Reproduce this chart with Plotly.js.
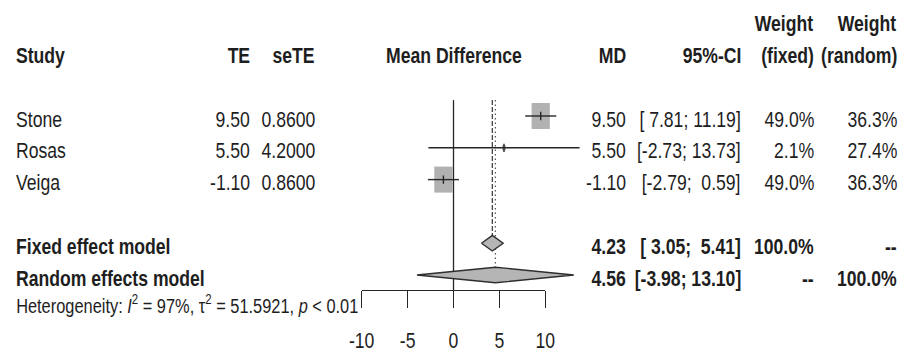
<!DOCTYPE html>
<html><head><meta charset="utf-8">
<script src="https://cdn.plot.ly/plotly-3.0.1.min.js"></script>
<style>html,body{margin:0;padding:0;background:#fff}</style>
</head><body><div id="chart" style="width:904px;height:353px"></div>
<script>
// ---------- data ----------
const studies = ['Stone', 'Rosas', 'Veiga'];
const te = [9.50, 5.50, -1.10];
const seTE = [0.8600, 4.2000, 0.8600];
const ciLow = [7.81, -2.73, -2.79];
const ciHigh = [11.19, 13.73, 0.59];
const weightFixed = [49.0, 2.1, 49.0];
const weightRandom = [36.3, 27.4, 36.3];
const modelNames = ['Fixed effect model', 'Random effects model'];
const modelMD = [4.23, 4.56];
const modelLow = [3.05, -3.98];
const modelHigh = [5.41, 13.10];
const modelWFixed = ['100.0%', '--'];
const modelWRandom = ['--', '100.0%'];
const hetI2 = '97%';
const hetTau2 = '51.5921';
const hetP = '&lt; 0.01';
const xTicks = [-10, -5, 0, 5, 10];

// ---------- layout geometry ----------
const W = 904, H = 353;
const X0 = 453.5, XS = 9.18;      // px of value 0, px per unit
const Y0 = 116, YS = 31.8;        // px of row 0, px per row
const AXIS_PX = 290;
const axisRow = (AXIS_PX - Y0) / YS;
const FONT = "'Liberation Sans', Arial, sans-serif";
const NARROW = 0.80;              // horizontal condensing of all text
const TXT = '#1e1e1e';
const FS = 22, FS_HET = 20.5;
const col = {study: 14, te: 252, se: 316.5, md: 628, ci: 743, wf: 816, wr: 899, mid: X0};
const TSHIFT = -3;

const px = v => v / W;
const f2 = v => v.toFixed(2);
const pad = (s, n) => ('\u00A0'.repeat(Math.max(0, n - s.length))) + s;
const ciTxt = (lo, hi) => '[' + pad(f2(lo), 5) + ';\u00A0' + pad(f2(hi), 5) + ']';

const ann = [];
function txt(xpx, row, text, anchor, opts = {}) {
  ann.push(Object.assign({
    xref: 'paper', yref: 'y', x: px(xpx), y: row, text: text,
    xanchor: anchor, yanchor: 'middle', showarrow: false, yshift: TSHIFT,
    font: {family: FONT, size: FS, color: TXT}
  }, opts));
}

// header
txt(col.wf, -3, '<b>Weight</b>', 'right');
txt(col.wr, -3, '<b>Weight</b>', 'right');
txt(col.study, -2, '<b>Study</b>', 'left');
txt(col.te, -2, '<b>TE</b>', 'right');
txt(col.se, -2, '<b>seTE</b>', 'right');
txt(col.mid, -2, '<b>Mean Difference</b>', 'center');
txt(col.md, -2, '<b>MD</b>', 'right');
txt(col.ci, -2, '<b>95%-CI</b>', 'right');
txt(col.wf, -2, '<b>(fixed)</b>', 'right');
txt(col.wr, -2, '<b>(random)</b>', 'right');

// studies
studies.forEach((s, i) => {
  txt(col.study, i, s, 'left');
  txt(col.te, i, f2(te[i]), 'right');
  txt(col.se, i, seTE[i].toFixed(4), 'right');
  txt(col.md, i, f2(te[i]), 'right');
  txt(col.ci, i, ciTxt(ciLow[i], ciHigh[i]), 'right');
  txt(col.wf, i, weightFixed[i].toFixed(1) + '%', 'right');
  txt(col.wr, i, weightRandom[i].toFixed(1) + '%', 'right');
});

// models
const modelRows = [studies.length + 1, studies.length + 2];
modelNames.forEach((m, k) => {
  const r = modelRows[k];
  txt(col.study, r, '<b>' + m + '</b>', 'left');
  txt(col.md, r, '<b>' + f2(modelMD[k]) + '</b>', 'right');
  txt(col.ci, r, '<b>' + ciTxt(modelLow[k], modelHigh[k]) + '</b>', 'right');
  txt(col.wf, r, '<b>' + modelWFixed[k] + '</b>', 'right');
  txt(col.wr, r, '<b>' + modelWRandom[k] + '</b>', 'right');
});

// heterogeneity
txt(col.study, modelRows[1] + 1,
  'Heterogeneity: <i>I</i><sup>2</sup> = ' + hetI2 + ', τ<sup>2</sup> = ' + hetTau2 + ', <i>p</i> ' + hetP,
  'left', {yshift: 3, font: {family: FONT, size: FS_HET, color: TXT}});

// ---------- marks ----------
const traces = [];
const shapes = [];
const LINE = '#262626';
const topRow = -0.5;

// zero reference line
traces.push({x: [0, 0], y: [topRow, axisRow], mode: 'lines', line: {color: LINE, width: 1.3}, hoverinfo: 'skip', showlegend: false});
// fixed (dashed) and random (dotted) lines
traces.push({x: [modelMD[0], modelMD[0]], y: [topRow, modelRows[0] - 0.24], mode: 'lines', line: {color: '#444', width: 1.3, dash: '5px,2px'}, hoverinfo: 'skip', showlegend: false});
traces.push({x: [modelMD[1], modelMD[1]], y: [topRow, modelRows[1] - 0.25], mode: 'lines', line: {color: '#555', width: 1.2, dash: '1.5px,3px'}, hoverinfo: 'skip', showlegend: false});

// squares
const wMax = Math.max(...weightFixed);
studies.forEach((s, i) => {
  const sc = Math.sqrt(weightFixed[i] / wMax);
  const hx = 9.1 / XS * sc, hy = 13 / YS * sc;
  shapes.push({type: 'rect', xref: 'x', yref: 'y', layer: 'below',
    x0: te[i] - hx, x1: te[i] + hx, y0: i - hy, y1: i + hy,
    fillcolor: '#b1b1b1', line: {width: 0}});
  traces.push({x: [ciLow[i], ciHigh[i]], y: [i, i], mode: 'lines', line: {color: LINE, width: 1.4}, hoverinfo: 'skip', showlegend: false});
  traces.push({x: [te[i], te[i]], y: [i - 0.13, i + 0.13], mode: 'lines', line: {color: LINE, width: 1.4}, hoverinfo: 'skip', showlegend: false});
});

// diamonds
modelNames.forEach((m, k) => {
  const r = modelRows[k], h = 0.245;
  traces.push({x: [modelLow[k], modelMD[k], modelHigh[k], modelMD[k], modelLow[k]],
    y: [r, r - h, r, r + h, r], mode: 'lines', fill: 'toself', fillcolor: '#b5b5b5',
    line: {color: '#2e2e2e', width: 1.4}, hoverinfo: 'skip', showlegend: false});
});

// invisible trace that carries the tick axis
traces.push({x: xTicks, y: xTicks.map(() => 0), xaxis: 'x2', yaxis: 'y', mode: 'markers',
  marker: {opacity: 0, size: 1}, hoverinfo: 'skip', showlegend: false});

const layout = {
  width: W, height: H, margin: {l: 0, r: 0, t: 0, b: 0},
  paper_bgcolor: '#fff', plot_bgcolor: 'rgba(0,0,0,0)',
  showlegend: false,
  xaxis: {range: [(0 - X0) / XS, (W - X0) / XS], visible: false, domain: [0, 1], fixedrange: true},
  yaxis: {range: [(H - Y0) / YS, (0 - Y0) / YS], visible: false, domain: [0, 1], fixedrange: true},
  xaxis2: {
    domain: [(X0 - 10 * XS) / W, (X0 + 10 * XS) / W], range: [-10, 10],
    anchor: 'free', position: 1 - AXIS_PX / H,
    tickvals: xTicks, ticktext: xTicks.map(String),
    ticks: 'outside', ticklen: 17, tickwidth: 1.3, tickcolor: LINE,
    showline: true, linecolor: LINE, linewidth: 1.3,
    showgrid: false, zeroline: false, ticklabelstandoff: 13,
    tickfont: {family: FONT, size: FS, color: TXT}
  },
  annotations: ann, shapes: shapes
};

function condense(el, pivotMode) {
  const bb = el.getBBox();
  const p = pivotMode === 'left' ? bb.x : pivotMode === 'right' ? bb.x + bb.width : bb.x + bb.width / 2;
  const prev = el.getAttribute('transform') || '';
  el.setAttribute('transform', prev + ' translate(' + p + ',0) scale(' + NARROW + ',1) translate(' + (-p) + ',0)');
}

Plotly.newPlot('chart', traces, layout, {staticPlot: true, displayModeBar: false}).then(gd => {
  gd.querySelectorAll('g.annotation').forEach(g => {
    const a = ann[+g.getAttribute('data-index')];
    const t = g.querySelector('text');
    if (a && t) condense(t, a.xanchor);
  });
  gd.querySelectorAll('g.x2tick text').forEach(t => condense(t, 'center'));
});
</script></body></html>
